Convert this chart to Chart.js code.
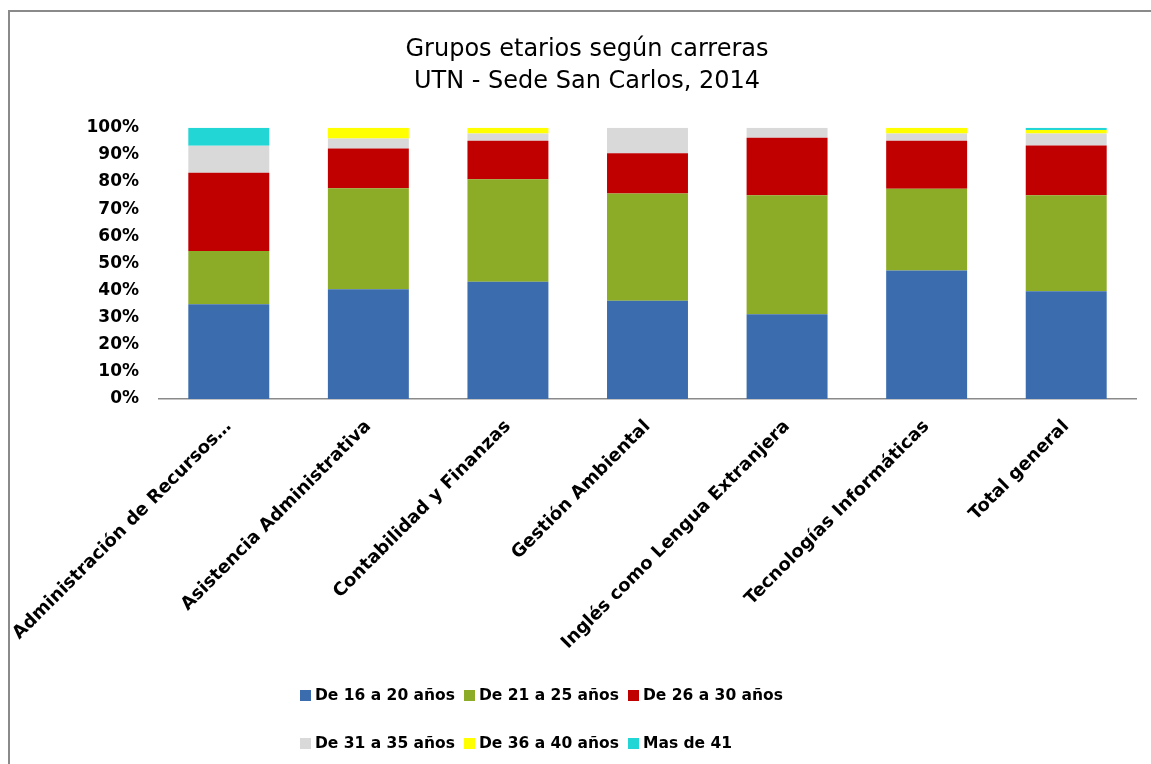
<!DOCTYPE html>
<html>
<head>
<meta charset="utf-8">
<script src="https://cdn.jsdelivr.net/npm/chart.js@4.4.1/dist/chart.umd.min.js"></script>
<style>
  html, body { margin:0; padding:0; background:#fff; overflow:hidden; }
  #wrap { position:relative; width:1151px; height:764px; overflow:hidden; }
  .frameTop { position:absolute; left:8px; top:10px; width:1143px; height:2px; background:#8a8a8a; }
  .frameLeft { position:absolute; left:8px; top:10px; width:2px; height:754px; background:#8a8a8a; }
  #chartBox { position:absolute; left:0; top:0; width:1151px; height:764px; }
  #legend { position:absolute; left:300px; top:683px;
            display:grid; grid-template-columns:164px 164px 164px; row-gap:24px;
            font:bold 15.5px "DejaVu Sans", sans-serif; color:#000; }
  #legend .item { display:flex; align-items:center; height:24px; white-space:nowrap; }
  #legend .box { width:11px; height:11px; margin-right:4px; }
</style>
</head>
<body>
<div id="wrap">
  <div class="frameTop"></div>
  <div class="frameLeft"></div>
  <div id="chartBox"><canvas id="ageChart"></canvas></div>
  <div id="legend"></div>
</div>
<script>
// ---------------------------
// Data (percent of students per age group)
// ---------------------------
const careers = [
  'Administración de Recursos…',
  'Asistencia Administrativa',
  'Contabilidad y Finanzas',
  'Gestión Ambiental',
  'Inglés como Lengua Extranjera',
  'Tecnologías Informáticas',
  'Total general'
];
const ageGroups = ['De 16 a 20 años','De 21 a 25 años','De 26 a 30 años','De 31 a 35 años','De 36 a 40 años','Mas de 41'];
const age16to20 = [34.9, 40.5, 43.2, 36.2, 31.3, 47.4, 39.7];
const age21to25 = [19.7, 37.2, 37.8, 39.6, 43.8, 30.1, 35.4];
const age26to30 = [28.8, 14.7, 14.2, 14.8, 21.2, 17.7, 18.4];
const age31to35 = [10.0,  3.7,  2.7,  9.4,  3.7,  2.7,  4.4];
const age36to40 = [ 0.0,  3.9,  2.1,  0.0,  0.0,  2.1,  1.3];
const age41plus = [ 6.6,  0.0,  0.0,  0.0,  0.0,  0.0,  0.8];
const yTicks = [0,10,20,30,40,50,60,70,80,90,100];
const colors = ['#3b6cad','#8cab27','#c00000','#d9d9d9','#ffff00','#22d6d6'];

const series = [age16to20, age21to25, age26to30, age31to35, age36to40, age41plus];

// ---------------------------
// Chart
// ---------------------------
const ctx = document.getElementById('ageChart').getContext('2d');
const ageChart = new Chart(ctx, {
  type:'bar',
  data:{
    labels:careers,
    datasets: series.map((vals, i)=>({
      label:ageGroups[i], data:vals, backgroundColor:colors[i],
      borderWidth:0, categoryPercentage:1, barPercentage:0.58
    }))
  },
  options:{
    responsive:true, maintainAspectRatio:false, animation:false,
    layout:{ padding:{ top:19, right:15, left:38, bottom:0 } },
    plugins:{
      legend:{ display:false },
      tooltip:{ enabled:false },
      title:{
        display:true,
        text:['Grupos etarios según carreras','UTN - Sede San Carlos, 2014'],
        color:'#000',
        font:{ family:'"DejaVu Sans", sans-serif', size:24, weight:'normal', lineHeight:1.33 },
        padding:{ top:15, bottom:30 }
      }
    },
    scales:{
      x:{
        stacked:true,
        grid:{ display:false, drawTicks:false },
        border:{ display:true, color:'#8a8a8a', width:1.5 },
        ticks:{ color:'#000', font:{ family:'"DejaVu Sans", sans-serif', size:18, weight:'bold' },
                minRotation:45, maxRotation:45, padding:17, autoSkip:false },
        afterFit:(scale)=>{ scale.height = 365; scale.paddingLeft = 0; scale.paddingRight = 0; }
      },
      y:{
        stacked:true, min:0, max:100,
        grid:{ display:false, drawTicks:false },
        border:{ display:false },
        afterBuildTicks:(scale)=>{ scale.ticks = yTicks.map(v=>({ value:v })); },
        ticks:{ color:'#000', font:{ family:'"DejaVu Sans", sans-serif', size:17, weight:'bold' },
                padding:20, callback:(v)=>v+'%' },
        afterFit:(scale)=>{ scale.width = 121; }
      }
    }
  }
});

// ---------------------------
// Legend (3 columns, like the source)
// ---------------------------
const legendEl = document.getElementById('legend');
ageChart.data.datasets.forEach(ds=>{
  const item = document.createElement('div');
  item.className = 'item';
  item.innerHTML = `<span class="box" style="background:${ds.backgroundColor}"></span><span>${ds.label}</span>`;
  legendEl.appendChild(item);
});
</script>
</body>
</html>
